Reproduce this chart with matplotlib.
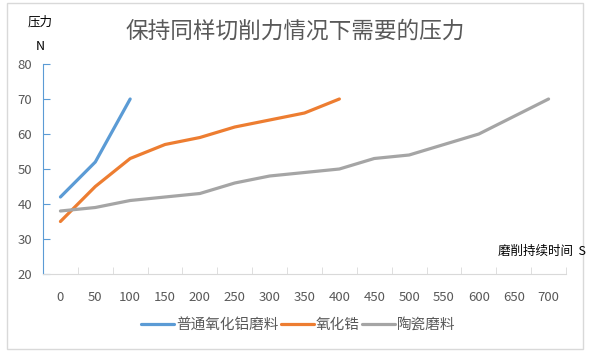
import matplotlib.pyplot as plt
from matplotlib.patches import Rectangle

plt.rcParams['font.family'] = ['Noto Sans CJK SC', 'DejaVu Sans']

# 数据
times = [0, 50, 100, 150, 200, 250, 300, 350, 400, 450, 500, 550, 600, 650, 700]
alumina = [42, 52, 70]
zirconia = [35, 45, 53, 57, 59, 62, 64, 66, 70]
ceramic = [38, 39, 41, 42, 43, 46, 48, 49, 50, 53, 54, 57, 60, 65, 70]
labels = ['普通氧化铝磨料', '氧化锆', '陶瓷磨料']
colors = ['#5B9BD5', '#ED7D31', '#A5A5A5']

fig = plt.figure(figsize=(5.96, 3.57), dpi=100)
ax = fig.add_axes([43 / 596, 1 - 274 / 357, 523 / 596, 210 / 357])

for vals, lab, col in zip([alumina, zirconia, ceramic], labels, colors):
    ax.plot(range(len(vals)), vals, color=col, linewidth=2.3, label=lab,
            solid_capstyle='round')

ax.set_xlim(-0.5, len(times) - 0.5)
ax.set_ylim(20, 80)
ax.set_yticks(range(20, 81, 10))
ax.set_xticks(range(len(times)))
ax.set_xticklabels([str(t) for t in times])
ax.set_xticks([i - 0.5 for i in range(len(times) + 1)], minor=True)

ax.tick_params(axis='x', which='major', length=0, pad=12, labelsize=9.5, labelcolor='#595959')
ax.tick_params(axis='x', which='minor', length=5, direction='in', color='#D9D9D9')
ax.tick_params(axis='y', length=5, direction='in', color='#5B9BD5', labelsize=9.5,
               labelcolor='#595959', pad=8)

for s in ['top', 'right']:
    ax.spines[s].set_visible(False)
ax.spines['bottom'].set_color('#D9D9D9')
ax.spines['left'].set_color('#5B9BD5')

fig.text(295 / 596, 1 - 31 / 357, '保持同样切削力情况下需要的压力', ha='center', va='center',
         fontsize=16.3, color='#595959')
fig.text(40 / 596, 1 - 22 / 357, '压力', ha='center', va='center', fontsize=9, color='black')
fig.text(40 / 596, 1 - 46 / 357, 'N', ha='center', va='center', fontsize=9, color='black')
fig.text(586 / 596, 1 - 251 / 357, '磨削持续时间  S', ha='right', va='center', fontsize=9,
         color='black')

fig.legend(loc='center', bbox_to_anchor=(0.5, 1 - 325 / 357), ncol=3, frameon=False,
           fontsize=10.5, handlelength=2.3, handletextpad=0.1, columnspacing=0.15,
           labelcolor='#595959')

fig.patches.append(Rectangle((7 / 596, 1 - 349 / 357), 576 / 596, 346 / 357,
                             transform=fig.transFigure, fill=False,
                             edgecolor='#D9D9D9', linewidth=1))

fig.savefig('out.png', dpi=100)
